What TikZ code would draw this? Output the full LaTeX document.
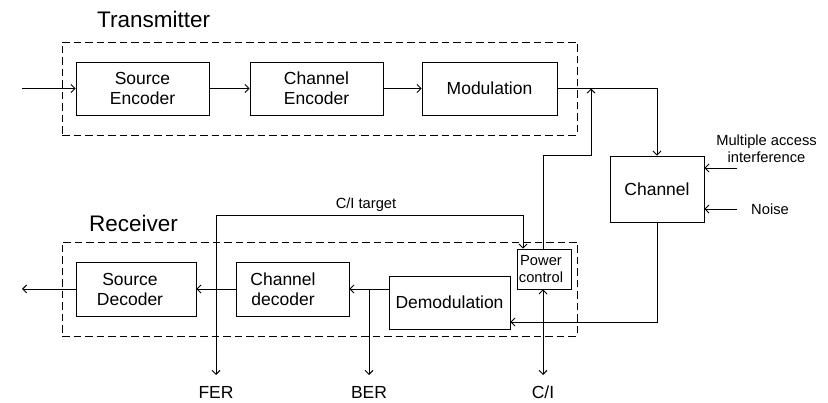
\documentclass[tikz,border=0pt]{standalone}
\usepackage{fontspec}
\setmainfont{Liberation Sans}
\usetikzlibrary{arrows.meta}
\begin{document}
\begin{tikzpicture}[x=1pt,y=-1pt,
  blk/.style={draw, line width=0.9pt, inner sep=0pt, align=center, font=\fontsize{17.5}{20}\selectfont},
  grp/.style={draw, dash pattern=on 7.5pt off 4pt, line width=0.9pt, inner sep=0pt},
  ttl/.style={inner sep=0pt, anchor=west, font=\fontsize{22.5}{27}\selectfont},
  sm/.style={inner sep=0pt, align=center, font=\fontsize{14.7}{17}\selectfont},
  lbl/.style={inner sep=0pt, align=center, font=\fontsize{17.5}{20}\selectfont},
  wire/.style={line width=0.9pt},
  arr/.style={wire, -{Straight Barb[length=4pt,width=8pt]}},
  darr/.style={wire, {Straight Barb[length=4pt,width=8pt]}-{Straight Barb[length=4pt,width=8pt]}}]
\path[use as bounding box] (0,0) rectangle (828,403);
% groups
\node[grp, minimum width=515pt, minimum height=93pt] (tx) at (319.5,88.5) {};
\node[grp, minimum width=515pt, minimum height=94pt] (rx) at (319.5,289) {};
\node[ttl] (txl) at (97,19) {Transmitter};
\node[ttl] (rxl) at (89,223) {Receiver};
% blocks
\node[blk, minimum width=133pt, minimum height=53pt] (se) at (142.5,88.5) {Source\\Encoder};
\node[blk, minimum width=133pt, minimum height=53pt] (ce) at (316.5,88.5) {Channel\\Encoder};
\node[blk, minimum width=135pt, minimum height=53pt] (mod) at (489.5,88.5) {Modulation};
\node[blk, minimum width=94pt, minimum height=66pt] (ch) at (657,189) {Channel};
\node[blk, minimum width=120pt, minimum height=54pt] (sd) at (136,289) {};
\node[lbl] (sdt) at (130,289) {Source\\Decoder};
\node[blk, minimum width=113pt, minimum height=54pt] (cd) at (292.5,289) {};
\node[lbl] (cdt) at (283,289) {Channel\\decoder};
\node[blk, minimum width=121pt, minimum height=53pt] (dm) at (449.5,302.5) {Demodulation};
\node[blk, minimum width=54pt, minimum height=40pt, font=\fontsize{14.7}{16.7}\selectfont] (pc) at (544,269) {};
\node[sm, font=\fontsize{14.7}{16.7}\selectfont] (pct) at (541,269) {Power\\control};
% labels
\node[sm] (mail) at (766.5,148.5) {Multiple access\\interference};
\node[sm] (nzl) at (770,209) {Noise};
\node[sm] (citl) at (366,205) {C/I target};
\node[lbl] (ferl) at (216,392) {FER};
\node[lbl] (berl) at (369,392) {BER};
\node[lbl] (cil) at (543,392) {C/I};
% coordinates
\coordinate (in) at (22,88.5);
\coordinate (out) at (22,289);
\coordinate (fb) at (591,88.5);
\coordinate (mai) at (737,168);
\coordinate (nz) at (737,209);
\coordinate (cb) at (657,322);
\coordinate (ber) at (369,375);
\coordinate (fer) at (216,375);
\coordinate (cit) at (523,215);
\coordinate (ci) at (543,375);
% transmitter chain
\draw[arr] (in) -- (se.west);
\draw[arr] (se) -- (ce);
\draw[arr] (ce) -- (mod);
\draw[arr] (mod.east) -| (ch.north);
\draw[arr] (ci |- pc.north) -- (ci |- ch.north) -| (fb);
% channel inputs
\draw[arr] (mai) -- (mai -| ch.east);
\draw[arr] (nz) -- (nz -| ch.east);
% receiver chain
\draw[arr] (ch.south) -- (cb) -- (cb -| dm.east);
\draw[arr] (dm.west |- cd) -- (cd.east);
\draw[arr] (ber |- cd) -- (ber);
\draw[arr] (cd) -- (sd);
\draw[arr] (sd.west) -- (out);
% C/I target and FER
\draw[arr] (fer |- cit) -- (cit) -- (cit |- pc.north);
\draw[arr] (fer |- cit) -- (fer);
% C/I
\draw[darr] (ci |- pc.south) -- (ci);
\end{tikzpicture}
\end{document}
